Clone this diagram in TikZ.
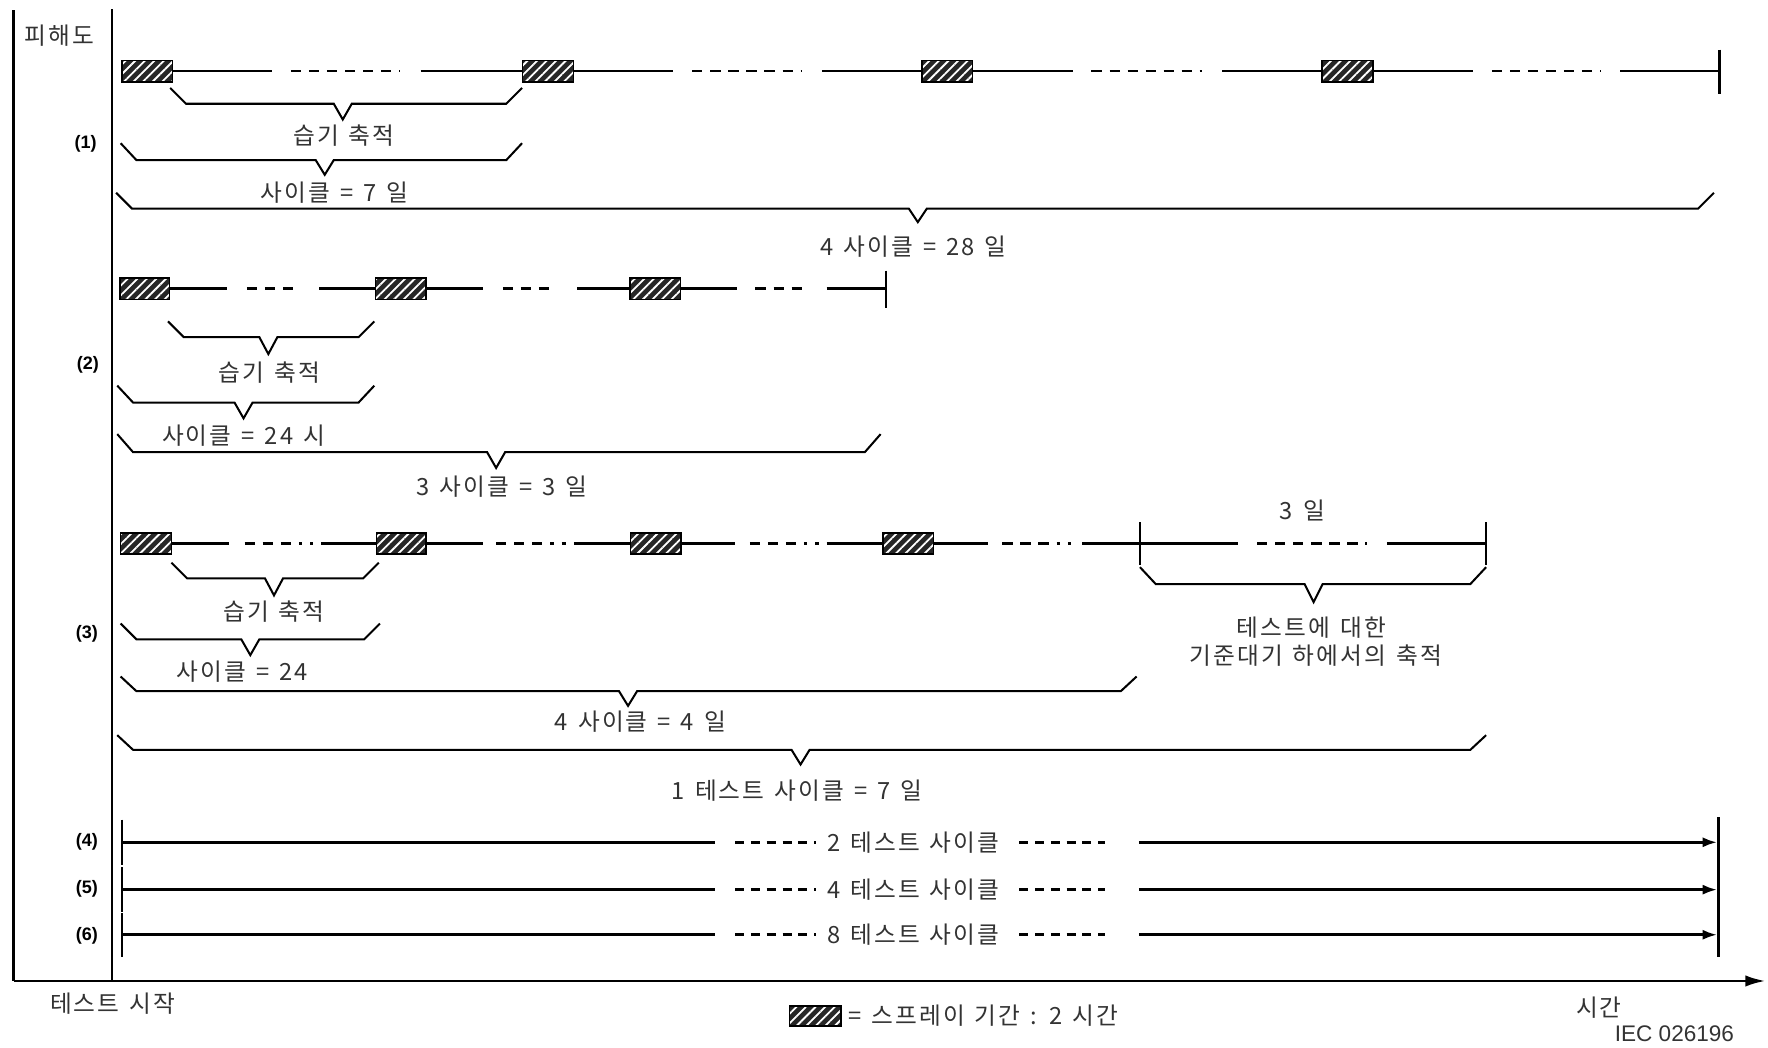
\documentclass[tikz,border=0pt]{standalone}
\usepackage{fontspec}
\setmainfont{Liberation Sans}
\newfontfamily\kr[LetterSpace=9,WordSpace=1.35]{Noto Sans CJK KR}
\usetikzlibrary{arrows.meta,patterns.meta}
\newcommand\tbrace[6]{\draw[brc] (#1,#3) -- (#1+14,#4) -- (#5-8,#4) -- (#5,#6) -- (#5+8,#4) -- (#2-14,#4) -- (#2,#3);}
\begin{document}
\begin{tikzpicture}[x=1pt,y=-1pt,
 ln/.style={line width=2.1pt},
 dsh/.style={line width=2.3pt,dash pattern=on 9pt off 7pt},
 dshdot/.style={line width=2.3pt,dash pattern=on 9pt off 7pt on 9pt off 7pt on 9pt off 7pt on 3pt off 7pt},
 sdsh/.style={line width=2.3pt,dash pattern=on 8pt off 6pt},
 brc/.style={line width=1.8pt,line join=miter},
 hbox/.style={rectangle,inner sep=0pt,minimum width=45pt,minimum height=19pt,fill=black!85,
   postaction={pattern={Lines[angle=45,distance=6pt,line width=1.6pt]},pattern color=white},
   postaction={draw,line width=1.4pt}},
 kt/.style={font=\kr\fontsize{21}{25}\selectfont,text=black!80,inner sep=0pt},
 rl/.style={font=\bfseries\fontsize{16}{19}\selectfont,inner sep=0pt},
 tk/.style={line width=2pt},
 arr/.style={line width=2.6pt,-{Latex[length=13pt,width=9pt]}}
]
\useasboundingbox (0,0) rectangle (1568,929);
\fill[white] (0,0) rectangle (1568,929);

% axes
\draw[line width=2.2pt] (12,9) -- (12,870);
\draw[line width=1.8pt] (99,8) -- (99,870);
\draw[line width=2.6pt,-{Latex[length=18pt,width=10pt]}] (12,870) -- (1566,870);
\node[kt] (yl) at (53,32) {피해도};
\node[kt] (st) at (100,890) {테스트 시작};
\node[kt] (tm) at (1418,894) {시간};
\node[font=\fontsize{20}{24}\selectfont,text=black!80,inner sep=0pt] (iec) at (1485,917) {IEC 026196};
\node[hbox,minimum width=46pt,minimum height=18pt] (lg) at (723,901) {};
\node[kt,anchor=west] (lgt) at (752,901) {= 스프레이 기간 : 2 시간};

% ---------- row 1 ----------
\node[rl] (r1) at (76,128) {(1)};
\node[hbox] (a1) at (130.5,63) {};
\node[hbox] (a2) at (486,63) {};
\node[hbox] (a3) at (840,63) {};
\node[hbox] (a4) at (1195,63) {};
\draw[ln] (a1.east) -- (241,63); \draw[dsh] (258,63) -- (355,63); \draw[ln] (373,63) -- (a2.west);
\draw[ln] (a2.east) -- (597,63); \draw[dsh] (614,63) -- (711,63); \draw[ln] (729,63) -- (a3.west);
\draw[ln] (a3.east) -- (952,63); \draw[dsh] (968,63) -- (1066,63); \draw[ln] (1084,63) -- (a4.west);
\draw[ln] (a4.east) -- (1306,63); \draw[dsh] (1323,63) -- (1420,63); \draw[ln] (1437,63) -- (1525,63);
\draw[tk] (1525,44) -- (1525,83);
\tbrace{151}{463}{78}{92}{304}{106}
\node[kt] (t11) at (305,120) {습기 축적};
\tbrace{107}{463}{127}{142}{288}{155}
\node[kt] (t12) at (297,171) {사이클 = 7 일};
\tbrace{103}{1520}{171}{185}{814}{197}
\node[kt] (t13) at (810,219) {4 사이클 = 28 일};

% ---------- row 2 ----------
\node[rl] (r2) at (78,324) {(2)};
\node[hbox,minimum width=44pt] (b1) at (128.5,256) {};
\node[hbox] (b2) at (355.5,256) {};
\node[hbox] (b3) at (581,256) {};
\draw[ln] (b1.east) -- (201,256); \draw[dsh] (219,256) -- (264,256); \draw[ln] (283,256) -- (b2.west);
\draw[ln] (b2.east) -- (428,256); \draw[dsh] (446,256) -- (492,256); \draw[ln] (512,256) -- (b3.west);
\draw[ln] (b3.east) -- (654,256); \draw[dsh] (670,256) -- (716,256); \draw[ln] (733,256) -- (786,256);
\draw[tk] (786,240) -- (786,273);
\tbrace{149}{332}{285}{299}{238}{314}
\node[kt] (t21) at (239,330) {습기 축적};
\tbrace{104}{332}{342}{357}{216}{371}
\node[kt] (t22) at (216,386) {사이클 = 24 시};
\tbrace{104}{781}{385}{401}{440}{415}
\node[kt] (t23) at (445,432) {3 사이클 = 3 일};

% ---------- row 3 ----------
\node[rl] (r3) at (77,562) {(3)};
\node[hbox] (c1) at (129.5,482) {};
\node[hbox,minimum width=44pt] (c2) at (356,482) {};
\node[hbox] (c3) at (581.5,482) {};
\node[hbox] (c4) at (805.5,482) {};
\draw[ln] (c1.east) -- (203,482); \draw[dshdot] (217,482) -- (278,482); \draw[ln] (285,482) -- (c2.west);
\draw[ln] (c2.east) -- (428,482); \draw[dshdot] (440,482) -- (502,482); \draw[ln] (509,482) -- (c3.west);
\draw[ln] (c3.east) -- (652,482); \draw[dshdot] (665,482) -- (726,482); \draw[ln] (733,482) -- (c4.west);
\draw[ln] (c4.east) -- (876,482); \draw[dshdot] (889,482) -- (950,482); \draw[ln] (960,482) -- (1011,482);
\draw[tk] (1011,463) -- (1011,501);
\draw[ln] (1011,482) -- (1098,482); \draw[dsh] (1115,482) -- (1212,482); \draw[ln] (1230,482) -- (1318,482);
\draw[tk] (1318,463) -- (1318,501);
\node[kt] (t3d) at (1155,453) {3 일};
\tbrace{1011}{1318}{503}{518}{1165}{534}
\node[kt] (t3e1) at (1163,557) {테스트에 대한};
\node[kt] (t3e2) at (1167,581) {기준대기 하에서의 축적};
\tbrace{152}{336}{499}{513}{243}{528}
\node[kt] (t31) at (243,542) {습기 축적};
\tbrace{107}{337}{553}{567}{222}{581}
\node[kt] (t32) at (215,596) {사이클 = 24};
\tbrace{107}{1008}{600}{613}{557}{626}
\node[kt] (t33) at (568,640) {4 사이클 = 4 일};
\tbrace{104}{1318}{652}{665}{710}{678}
\node[kt] (t34) at (707,701) {1 테스트 사이클 = 7 일};

% ---------- rows 4-6 ----------
\node[rl] (r4) at (77,747) {(4)};
\node[rl] (r5) at (77,788) {(5)};
\node[rl] (r6) at (77,830) {(6)};
\draw[tk] (108,727) -- (108,767);
\draw[tk] (108,769) -- (108,809);
\draw[tk] (108,810) -- (108,849);
\draw[tk] (1524,725) -- (1524,849);
\foreach \yy/\nn/\tx in {747/p4/2, 789/p5/4, 829/p6/8}{
  \node[kt] (\nn) at (810,\yy) {\tx{} 테스트 사이클};
  \draw[arr,-] (108,\yy) -- (634,\yy);
  \draw[sdsh] (652,\yy) -- (724,\yy);
  \draw[sdsh] (904,\yy) -- (980,\yy);
  \draw[arr] (1010,\yy) -- (1523,\yy);
}
\end{tikzpicture}
\end{document}
